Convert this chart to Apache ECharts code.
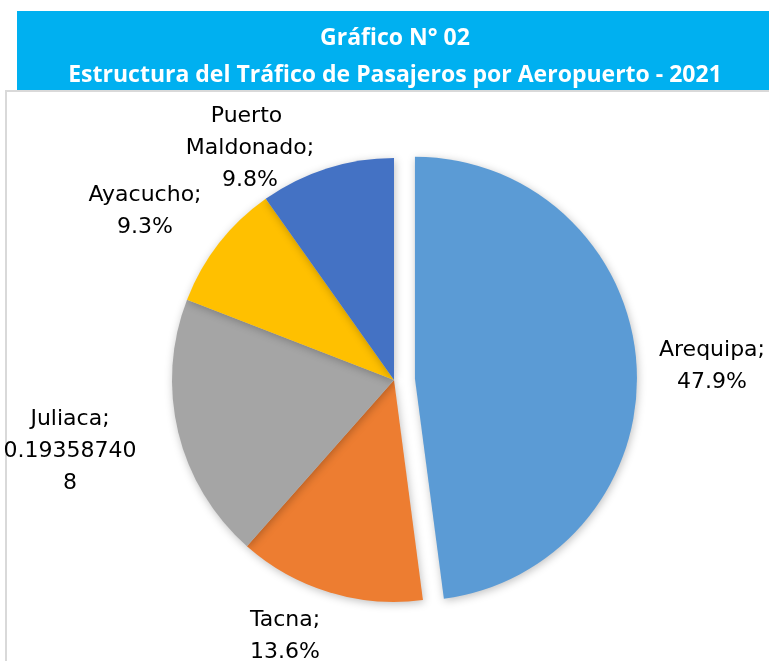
<!DOCTYPE html>
<html>
<head>
<meta charset="utf-8">
<script src="https://cdn.jsdelivr.net/npm/echarts@6/dist/echarts.min.js"></script>
<style>
  html, body { margin: 0; padding: 0; background: #fff; }
  #chart { width: 769px; height: 661px; }
</style>
</head>
<body>
<div id="chart"></div>
<script>
// datos del gráfico
const airports = ['Arequipa', 'Tacna', 'Juliaca', 'Ayacucho', 'Puerto Maldonado']
const shares = [0.479, 0.136, 0.193587408, 0.093, 0.098]
// Juliaca sale sin formato de porcentaje en el original
const shareFormats = ['pct', 'pct', 'raw', 'pct', 'pct']
const colors = ['#5B9BD5', '#ED7D31', '#A5A5A5', '#FFC000', '#4472C4']
const titleLines = ['Gráfico N° 02', 'Estructura del Tráfico de Pasajeros por Aeropuerto - 2021']

// posiciones de las etiquetas (centro del bloque de texto)
const labelPos = [[712, 366], [285, 636], [70, 451], [145, 211], [250, 148]]

const chart = echarts.init(document.getElementById('chart'))

const pieCenter = [394, 380]
const explode = 21
// la porción de Arequipa sale separada del resto (como en Excel)
const total = shares.reduce((a, b) => a + b, 0)
const midAng = shares[0] / total * Math.PI
const explodedCenter = [pieCenter[0] + Math.sin(midAng) * explode, pieCenter[1] - Math.cos(midAng) * explode]

const titleStyle = {
  fill: '#fff',
  fontFamily: 'Open Sans',
  fontWeight: 'bold',
  fontSize: 23,
  align: 'center',
  verticalAlign: 'middle'
}

const labelFmt = (p) => {
  const v = shareFormats[p.dataIndex] === 'pct'
    ? (p.value * 100).toFixed(1) + '%'
    : String(p.value)
  return p.name + ';\n' + v
}

function pieSeries (center, showIdx) {
  return {
    type: 'pie',
    center: center,
    radius: 222,
    startAngle: 90,
    clockwise: true,
    silent: true,
    labelLine: { show: false },
    label: {
      show: true,
      position: 'outside',
      color: '#000',
      fontFamily: 'DejaVu Sans',
      fontSize: 22,
      lineHeight: 32,
      align: 'center',
      width: 146,
      overflow: 'break',
      formatter: labelFmt
    },
    labelLayout: (p) => ({
      x: labelPos[p.dataIndex][0],
      y: labelPos[p.dataIndex][1],
      align: 'center',
      verticalAlign: 'middle'
    }),
    itemStyle: {
      shadowBlur: 8,
      shadowColor: 'rgba(0,0,0,0.25)',
      shadowOffsetX: 1,
      shadowOffsetY: 2
    },
    data: airports.map((name, i) => {
      const on = showIdx(i)
      return {
        name: name,
        value: shares[i],
        label: { show: on },
        itemStyle: on ? { color: colors[i] } : { color: 'rgba(0,0,0,0)', shadowBlur: 0, shadowColor: 'rgba(0,0,0,0)' }
      }
    })
  }
}

const option = {
  animation: false,
  graphic: [
    {
      type: 'rect',
      z: -1,
      shape: { x: 17, y: 11, width: 760, height: 79 },
      style: { fill: '#00B0F0' }
    },
    {
      type: 'rect',
      z: -1,
      shape: { x: 6, y: 91, width: 800, height: 600 },
      style: { fill: 'none', stroke: '#D9D9D9', lineWidth: 2 }
    },
    {
      type: 'text',
      x: 395,
      y: 38,
      style: Object.assign({ text: titleLines[0] }, titleStyle)
    },
    {
      type: 'text',
      x: 395,
      y: 75,
      style: Object.assign({ text: titleLines[1] }, titleStyle)
    }
  ],
  series: [
    pieSeries(pieCenter, (i) => i !== 0),
    pieSeries(explodedCenter, (i) => i === 0)
  ]
}

chart.setOption(option)
</script>
</body>
</html>
